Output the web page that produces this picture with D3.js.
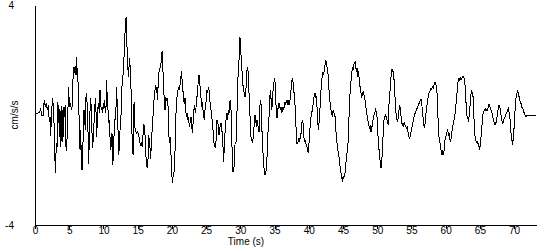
<!DOCTYPE html>
<html lang="en">
<head>
<meta charset="UTF-8">
<title>Acceleration record</title>
<style>
  body { margin: 0; background: #fff; }
  svg text { font-family: "Liberation Sans", Arial, sans-serif; font-size: 10px; fill: #000; }
  .axis path, .axis line { stroke: #000; shape-rendering: crispEdges; }
  .trace { fill: none; stroke: #000; stroke-width: 1; shape-rendering: crispEdges; }
</style>
</head>
<body>
<div id="chart"></div>
<script src="https://cdnjs.cloudflare.com/ajax/libs/d3/7.8.5/d3.min.js"></script>
<script>
var xTicks = [0, 5, 10, 15, 20, 25, 30, 35, 40, 45, 50, 55, 60, 65, 70];
var yLabels = [4, -4];
var xLabel = "Time (s)";
var yLabel = "cm/s/s";

// time (s), acceleration (cm/s/s)
var trace = [
[0.10,0.04],[0.39,0.06],[0.68,0.11],[0.83,0.21],[0.97,-0.01],[1.17,-0.04],[1.36,0.55],[1.51,0.30],[1.66,0.42],[1.80,0.18],[1.95,0.36],[2.09,-0.24],[2.19,-0.06],[2.29,-0.76],[2.44,0.18],[2.58,0.60],[2.73,0.18],[2.87,-1.15],[2.97,-2.10],[3.12,-1.03],[3.21,-1.27],[3.31,0.47],[3.46,0.18],[3.56,-0.79],[3.65,0.21],[3.75,-1.15],[3.85,0.33],[3.95,-0.97],[4.04,0.18],[4.14,-0.79],[4.24,0.30],[4.34,-0.06],[4.43,0.36],[4.53,-1.15],[4.63,-1.30],[4.72,-0.48],[4.82,0.28],[4.92,1.03],[5.02,0.30],[5.16,0.38],[5.31,0.23],[5.41,0.30],[5.50,0.91],[5.60,1.64],[5.70,1.76],[5.80,1.54],[5.89,1.78],[5.99,1.45],[6.09,2.12],[6.19,1.27],[6.28,1.25],[6.38,0.18],[6.48,-0.18],[6.58,-1.27],[6.67,-0.55],[6.77,-1.54],[6.87,-2.00],[6.97,-1.27],[7.06,-0.67],[7.16,0.18],[7.26,-0.18],[7.36,-0.55],[7.45,0.64],[7.55,0.79],[7.65,0.18],[7.74,-0.57],[7.84,-1.78],[7.94,-0.79],[8.04,0.18],[8.13,0.62],[8.23,0.18],[8.33,-0.67],[8.43,-1.21],[8.52,-0.79],[8.62,-0.30],[8.72,0.18],[8.82,0.61],[8.91,0.18],[9.01,-0.79],[9.11,-0.18],[9.21,0.30],[9.30,0.42],[9.40,0.06],[9.50,0.91],[9.60,0.40],[9.69,0.18],[9.79,0.30],[9.89,0.06],[9.99,0.42],[10.08,0.24],[10.18,0.55],[10.28,0.06],[10.38,0.30],[10.47,1.27],[10.57,0.40],[10.67,0.18],[10.76,-0.30],[10.86,-0.18],[10.96,-0.79],[11.06,-1.27],[11.15,-1.03],[11.25,-0.67],[11.35,-1.82],[11.45,-1.52],[11.54,-0.79],[11.64,-0.18],[11.74,-0.18],[11.84,0.30],[11.93,1.00],[12.03,0.18],[12.13,-0.55],[12.23,-1.45],[12.32,-1.15],[12.42,-0.57],[12.52,-0.18],[12.62,0.18],[12.71,1.03],[12.81,1.39],[12.91,1.52],[13.01,2.12],[13.10,2.61],[13.20,3.33],[13.30,3.55],[13.39,2.97],[13.49,2.00],[13.59,1.64],[13.69,1.39],[13.78,2.06],[13.88,1.82],[13.98,1.58],[14.08,0.30],[14.17,-0.67],[14.27,-1.39],[14.37,-1.45],
[14.47,0.48],[14.61,-0.48],[14.81,-0.67],[15.00,-0.61],[15.20,-0.79],[15.39,-1.09],[15.54,-1.03],[15.68,-1.15],[15.88,-0.36],[16.02,-0.42],[16.17,-1.27],[16.27,-1.76],[16.41,-1.94],[16.51,-1.64],[16.61,-0.73],[16.76,-1.03],[16.90,-1.60],[17.05,-0.79],[17.24,-0.06],[17.39,0.55],[17.54,0.91],[17.63,1.09],[17.73,0.79],[17.83,1.03],[17.93,0.55],[18.02,1.39],[18.17,1.66],[18.32,1.76],[18.41,1.88],[18.51,2.24],[18.61,2.34],[18.71,1.52],[18.80,1.03],[18.90,0.42],[19.00,0.18],[19.10,0.67],[19.19,0.55],[19.29,0.61],[19.39,0.42],[19.49,0.18],[19.58,-0.79],[19.68,-1.03],[19.78,-0.79],[19.88,-1.52],[19.97,-2.00],[20.07,-2.48],[20.17,-2.24],[20.26,-2.12],[20.36,-2.00],[20.46,-1.27],[20.56,-0.30],[20.65,0.42],[20.75,0.67],[20.85,0.79],[20.95,1.03],[21.04,0.91],[21.14,1.05],[21.24,1.15],[21.33,1.39],[21.43,1.58],[21.53,1.03],[21.63,0.85],[21.72,0.55],[21.82,0.42],[21.92,0.61],[22.02,0.18],[22.11,-0.06],[22.21,0.06],[22.31,-0.18],[22.41,-0.06],[22.50,-0.30],[22.60,-0.42],[22.70,-0.18],[22.80,-0.06],[22.89,-0.30],[22.99,-0.67],[23.09,-0.30],[23.18,0.06],[23.28,0.36],[23.38,0.18],[23.48,0.06],[23.57,0.48],[23.67,0.67],[23.77,0.91],[23.87,1.33],[23.96,1.45],[24.06,1.21],[24.16,0.91],[24.26,0.61],[24.35,0.30],[24.45,0.48],[24.55,0.18],[24.65,-0.06],[24.74,-0.18],[24.84,0.18],[24.94,0.42],[25.04,0.55],[25.13,0.91],[25.23,0.79],[25.33,1.03],[25.43,0.91],[25.52,0.55],[25.62,0.42],[25.72,0.18],[25.81,0.06],[25.91,-0.30],[26.01,-0.55],[26.11,-0.91],[26.20,-1.15],[26.30,-1.03],[26.40,-1.21],[26.50,-0.67],[26.59,-0.18],[26.69,-0.24],[26.79,-0.42],[26.89,-0.73],[26.98,-0.55],[27.08,-0.36],[27.18,-0.30],[27.28,-0.42],[27.37,-0.79],[27.47,-1.15],[27.57,-1.70],[27.67,-1.03],[27.76,-0.67],[27.86,-0.30],[27.96,-0.06],[28.06,0.06],[28.15,-0.18],[28.25,0.18],[28.35,0.06],[28.44,0.42],[28.54,0.55],[28.64,0.18],[28.74,-0.79],[28.83,-1.52],
[28.93,-2.06],[29.08,-1.88],[29.23,-1.03],[29.37,-0.97],[29.52,0.18],[29.62,1.03],[29.72,1.88],[29.81,2.00],[29.91,2.82],[30.01,2.73],[30.11,2.12],[30.20,1.64],[30.30,1.52],[30.40,1.03],[30.49,0.97],[30.59,0.67],[30.69,0.73],[30.79,0.67],[30.88,1.39],[30.98,1.64],[31.08,1.76],[31.17,1.39],[31.27,0.79],[31.37,0.18],[31.47,-0.30],[31.56,-0.79],[31.66,-0.85],[31.76,-1.03],[31.86,-0.85],[31.95,-0.55],[32.05,-0.30],[32.15,0.00],[32.25,-0.18],[32.34,-0.42],[32.44,-0.18],[32.54,-0.30],[32.63,-0.48],[32.73,-0.61],[32.83,0.18],[32.93,0.55],[33.02,0.42],[33.12,-0.18],[33.22,-1.03],[33.32,-1.39],[33.41,-1.88],[33.51,-2.00],[33.61,-2.18],[33.71,-2.06],[33.80,-2.00],[33.90,-1.52],[34.00,-0.79],[34.10,-0.42],[34.19,-0.06],[34.29,0.55],[34.39,0.91],[34.48,0.61],[34.58,0.18],[34.68,0.42],[34.78,0.91],[34.87,1.03],[34.97,1.33],[35.07,1.21],[35.17,0.55],[35.26,0.18],[35.36,-0.12],[35.46,0.18],[35.56,0.30],[35.65,0.42],[35.75,0.30],[35.85,0.18],[35.95,0.30],[36.04,0.06],[36.14,0.18],[36.24,0.30],[36.33,0.18],[36.43,0.30],[36.53,0.48],[36.63,0.36],[36.72,0.48],[36.82,0.55],[36.92,0.36],[37.02,0.55],[37.11,0.36],[37.21,0.42],[37.31,0.67],[37.41,0.91],[37.50,1.21],[37.60,1.33],[37.70,1.21],[37.79,0.85],[37.89,0.79],[37.99,0.36],[38.09,-0.30],[38.18,-0.55],[38.28,-1.03],[38.38,-1.03],[38.48,-0.91],[38.57,-0.85],[38.67,-0.97],[38.77,-0.79],[38.87,-0.67],[38.96,-0.36],[39.06,-0.18],[39.16,-0.30],[39.26,-0.67],[39.35,-0.97],[39.45,-0.91],[39.55,-1.03],[39.64,-1.09],[39.74,-1.15],[39.84,-1.27],[39.94,-1.39],[40.03,-1.03],[40.13,-0.67],[40.23,-0.30],[40.33,-0.06],[40.42,0.06],[40.52,0.18],[40.62,0.36],[40.71,0.55],[40.81,0.73],[40.91,0.79],[41.01,0.61],[41.10,0.67],[41.20,0.30],[41.30,-0.18],[41.40,-0.55],[41.49,-0.30],[41.59,0.06],[41.69,0.42],[41.79,0.91],[41.88,1.21],[41.98,1.45],[42.08,1.58],[42.17,1.45],[42.27,1.64],[42.37,1.82],[42.47,2.00],[42.56,1.94],[42.66,1.76],[42.76,1.58],[42.86,1.39],[42.95,0.91],[43.05,0.67],[43.15,0.30],[43.25,0.18],[43.34,0.06],[43.44,-0.06],
[43.55,0.18],[43.69,0.06],[43.84,-0.06],[43.94,-0.55],[44.03,-0.67],[44.13,-1.03],[44.23,-1.27],[44.33,-1.39],[44.42,-1.52],[44.52,-1.76],[44.62,-2.00],[44.71,-2.12],[44.81,-2.30],[44.91,-2.36],[45.01,-2.24],[45.10,-2.30],[45.20,-2.18],[45.30,-2.12],[45.40,-1.88],[45.49,-1.52],[45.59,-1.39],[45.69,-1.27],[45.79,-0.67],[45.88,-0.06],[45.98,0.55],[46.08,1.03],[46.18,1.27],[46.27,1.52],[46.37,1.70],[46.47,1.64],[46.56,1.82],[46.66,1.88],[46.76,1.94],[46.86,1.76],[46.95,1.58],[47.05,1.70],[47.15,1.39],[47.25,1.58],[47.34,1.39],[47.44,1.15],[47.54,0.91],[47.64,0.79],[47.73,0.67],[47.83,0.73],[47.93,0.85],[48.03,0.79],[48.12,0.67],[48.22,0.55],[48.32,0.30],[48.42,0.18],[48.51,0.00],[48.61,-0.18],[48.71,-0.30],[48.81,-0.42],[48.90,-0.48],[49.00,-0.42],[49.10,-0.61],[49.19,-0.55],[49.29,-0.30],[49.39,-0.18],[49.49,-0.06],[49.58,0.06],[49.68,0.12],[49.78,0.24],[49.88,0.06],[49.97,-0.06],[50.07,-0.55],[50.17,-1.03],[50.27,-1.27],[50.36,-1.52],[50.46,-1.76],[50.56,-1.94],[50.66,-1.76],[50.75,-1.27],[50.85,-0.79],[50.95,-0.30],[51.05,-0.06],[51.14,-0.06],[51.24,0.00],[51.34,-0.12],[51.44,-0.18],[51.53,-0.30],[51.63,-0.36],[51.73,0.42],[51.83,0.67],[51.92,1.15],[52.02,1.39],[52.12,1.64],[52.21,1.66],[52.31,1.58],[52.41,1.45],[52.51,1.09],[52.60,0.67],[52.70,0.18],[52.80,-0.06],[52.90,-0.18],[52.99,-0.24],[53.09,-0.06],[53.19,0.18],[53.29,0.30],[53.38,0.24],[53.48,-0.06],[53.58,-0.30],[53.68,-0.36],[53.77,-0.30],[53.87,-0.42],[53.97,-0.30],[54.07,-0.36],[54.16,-0.42],[54.26,-0.48],[54.36,-0.42],[54.46,-0.55],[54.55,-0.67],[54.65,-0.79],[54.75,-0.85],[54.85,-0.73],[54.94,-0.61],[55.04,-0.48],[55.14,-0.36],[55.23,-0.24],[55.33,-0.12],[55.43,0.00],[55.53,0.06],[55.62,0.12],[55.72,0.18],[55.82,0.24],[55.92,0.30],[56.01,0.36],[56.11,0.42],[56.21,0.48],[56.30,0.55],[56.40,0.57],[56.50,0.42],[56.60,0.18],[56.69,-0.06],[56.79,-0.30],[56.89,-0.48],[56.99,-0.30],[57.08,-0.06],[57.18,0.18],[57.28,0.36],[57.38,0.55],[57.47,0.67],[57.57,0.79],[57.67,0.85],[57.77,0.91],[57.86,0.97],[57.96,0.93],[58.06,1.01],
[58.16,0.97],[58.30,1.09],[58.45,1.21],[58.60,1.09],[58.74,0.79],[58.84,0.18],[58.94,-0.48],[59.04,-0.85],[59.13,-0.91],[59.23,-1.15],[59.33,-1.27],[59.43,-1.39],[59.52,-1.33],[59.62,-1.45],[59.72,-1.39],[59.82,-1.15],[59.91,-0.91],[60.01,-0.79],[60.11,-0.73],[60.20,-0.61],[60.30,-0.55],[60.40,-0.73],[60.50,-0.67],[60.59,-0.85],[60.69,-0.97],[60.79,-0.85],[60.89,-0.67],[60.98,-0.48],[61.08,-0.36],[61.18,-0.24],[61.28,-0.12],[61.37,0.06],[61.47,0.30],[61.57,0.55],[61.67,0.85],[61.76,1.15],[61.86,1.27],[61.96,1.33],[62.06,1.27],[62.15,1.33],[62.25,1.27],[62.35,1.33],[62.45,1.39],[62.54,1.42],[62.64,1.39],[62.74,1.27],[62.83,1.09],[62.93,0.67],[63.03,0.18],[63.13,-0.06],[63.22,-0.12],[63.32,-0.18],[63.42,-0.06],[63.52,0.18],[63.61,0.55],[63.71,0.79],[63.81,0.87],[63.91,0.79],[64.00,0.67],[64.10,0.18],[64.20,-0.55],[64.30,-0.79],[64.39,-0.91],[64.49,-0.97],[64.59,-1.03],[64.69,-0.97],[64.78,-1.09],[64.88,-1.15],[64.98,-1.27],[65.08,-1.03],[65.17,-0.79],[65.27,-0.48],[65.37,-0.18],[65.46,0.06],[65.56,0.12],[65.66,0.18],[65.76,0.16],[65.85,0.21],[65.95,0.18],[66.05,0.16],[66.15,0.21],[66.24,0.30],[66.34,0.40],[66.44,0.33],[66.54,0.24],[66.63,0.18],[66.73,0.12],[66.83,0.00],[66.93,-0.12],[67.02,-0.24],[67.12,-0.30],[67.22,-0.36],[67.31,-0.30],[67.41,-0.24],[67.51,-0.06],[67.61,0.12],[67.70,0.24],[67.80,0.36],[67.90,0.33],[68.00,0.18],[68.09,0.00],[68.19,-0.18],[68.29,-0.30],[68.39,-0.28],[68.48,-0.18],[68.58,-0.12],[68.68,-0.06],[68.77,0.00],[68.87,0.06],[68.97,0.12],[69.07,0.18],[69.16,0.24],[69.26,0.12],[69.36,0.00],[69.46,-0.30],[69.55,-0.67],[69.65,-0.85],[69.75,-1.09],[69.85,-0.91],[69.94,-0.67],[70.04,-0.30],[70.14,0.18],[70.24,0.55],[70.33,0.73],[70.43,0.79],[70.53,0.91],[70.63,0.73],[70.72,0.67],[70.82,0.55],[70.92,0.48],[71.01,0.42],[71.11,0.30],[71.21,0.24],[71.31,0.21],[71.40,0.12],[71.50,0.06],[71.60,0.00],[71.70,-0.04],[71.79,-0.04],[71.99,0.00],[72.28,0.00],[72.77,-0.01],[73.21,-0.01]
];

var width = 550, height = 250;
var x = d3.scaleLinear().domain([0, 73.2]).range([35, 536]);
var y = d3.scaleLinear().domain([-4, 4]).range([225, 5]);

var svg = d3.select("#chart").append("svg")
  .attr("width", width)
  .attr("height", height);

// bottom axis
svg.append("g")
  .attr("class", "axis")
  .attr("transform", "translate(0," + y(-4) + ")")
  .call(d3.axisBottom(x).tickValues(xTicks).tickSize(4).tickSizeOuter(0).tickPadding(-2))
  .call(function(g) { g.selectAll("text").attr("font-family", null).attr("font-size", null); });

// left axis, no ticks
svg.append("g")
  .attr("class", "axis")
  .attr("transform", "translate(" + x(0) + ",0)")
  .call(d3.axisLeft(y).tickValues([]).tickSizeOuter(0));

svg.selectAll("text.ylab")
  .data(yLabels)
  .enter().append("text")
  .attr("class", "ylab")
  .attr("x", 14)
  .attr("y", function(d) { return y(d) + 4; })
  .attr("text-anchor", "end")
  .text(function(d) { return d; });

svg.append("text")
  .attr("x", 246)
  .attr("y", 245)
  .attr("text-anchor", "middle")
  .text(xLabel);

svg.append("text")
  .attr("transform", "translate(18," + y(0) + ") rotate(-90)")
  .attr("text-anchor", "middle")
  .text(yLabel);

var line = d3.line()
  .x(function(d) { return x(d[0]); })
  .y(function(d) { return y(d[1]); });

svg.append("path")
  .datum(trace)
  .attr("class", "trace")
  .attr("d", line);
</script>
</body>
</html>
